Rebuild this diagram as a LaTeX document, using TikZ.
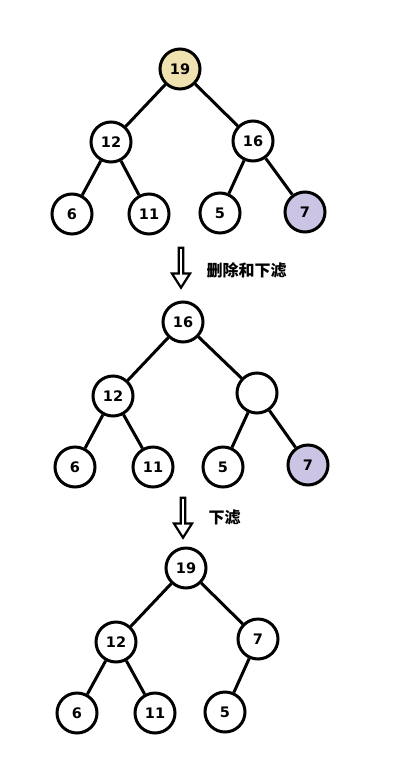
\documentclass[tikz,border=0pt]{standalone}
\usepackage{fontspec}
\setmainfont{DejaVu Sans}
\newfontfamily\cjk{Noto Sans CJK SC}
\usetikzlibrary{shapes.arrows}
\definecolor{rootfill}{HTML}{F0E2B0}
\definecolor{lastfill}{HTML}{CCC4E4}
\tikzset{
  hnode/.style={circle,draw=black,line width=3pt,fill=white,minimum size=40pt,inner sep=0pt,font=\bfseries\fontsize{14.5}{14.5}\selectfont},
  edge/.style={line width=3pt},
  downarrow/.style={single arrow,draw=black,line width=2.2pt,fill=white,shape border rotate=270,minimum height=40pt,minimum width=18pt,single arrow head extend=3.5pt,inner sep=0pt,single arrow tip angle=65},
  lbl/.style={font=\cjk\bfseries\fontsize{16}{16}\selectfont,anchor=west}
}
\begin{document}
\begin{tikzpicture}[x=1pt,y=-1pt]
\useasboundingbox (0,0) rectangle (408,782);
% tree 1
\node[hnode,fill=rootfill] (a1) at (180,69) {19};
\node[hnode] (a2) at (111,142) {12};
\node[hnode] (a3) at (253,141) {16};
\node[hnode] (a4) at (72,214) {6};
\node[hnode] (a5) at (149,214) {11};
\node[hnode] (a6) at (220,213) {5};
\node[hnode,fill=lastfill] (a7) at (305,212) {7};
\draw[edge] (a1)--(a2) (a1)--(a3) (a2)--(a4) (a2)--(a5) (a3)--(a6) (a3)--(a7);
\node[downarrow] (ar1) at (181,266) {};
\node[lbl] (t1) at (203,270) {删除和下滤};
% tree 2
\node[hnode] (b1) at (183,322) {16};
\node[hnode] (b2) at (113,396) {12};
\node[hnode] (b3) at (257,393) {};
\node[hnode] (b4) at (75,467) {6};
\node[hnode] (b5) at (153,467) {11};
\node[hnode] (b6) at (223,467) {5};
\node[hnode,fill=lastfill] (b7) at (308,465) {7};
\draw[edge] (b1)--(b2) (b1)--(b3) (b2)--(b4) (b2)--(b5) (b3)--(b6) (b3)--(b7);
\node[downarrow] (ar2) at (183,516) {};
\node[lbl] (t2) at (205,518) {下滤};
% tree 3
\node[hnode] (c1) at (186,568) {19};
\node[hnode] (c2) at (116,642) {12};
\node[hnode] (c3) at (258,639) {7};
\node[hnode] (c4) at (77,713) {6};
\node[hnode] (c5) at (155,713) {11};
\node[hnode] (c6) at (225,712) {5};
\draw[edge] (c1)--(c2) (c1)--(c3) (c2)--(c4) (c2)--(c5) (c3)--(c6);
\end{tikzpicture}
\end{document}
